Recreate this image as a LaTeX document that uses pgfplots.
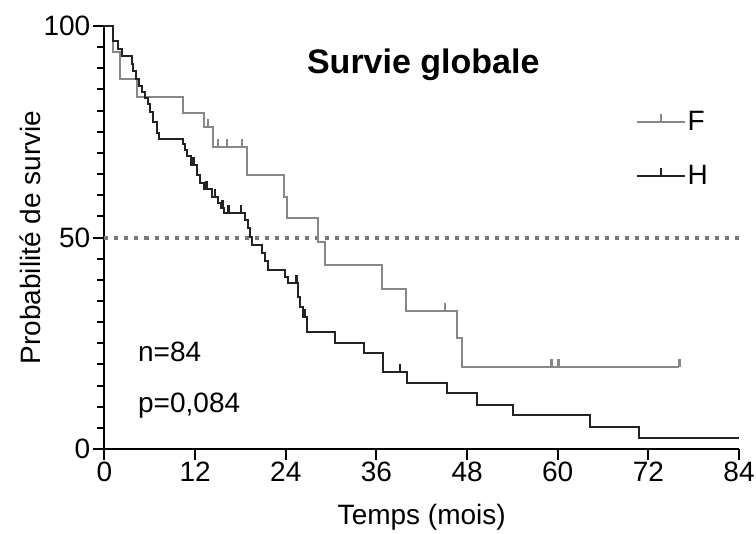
\documentclass[border=0pt]{standalone}
\usepackage{fontspec}
\setmainfont{Liberation Sans}
\usepackage{pgfplots}
\pgfplotsset{compat=1.18}
\definecolor{fcol}{RGB}{135,135,135}
\definecolor{hcol}{RGB}{35,35,35}
\definecolor{dcol}{RGB}{120,120,120}
\pgfdeclareplotmark{cens}{\pgfpathmoveto{\pgfpoint{0pt}{0pt}}\pgfpathlineto{\pgfpoint{0pt}{8pt}}\pgfusepathqstroke}
\newcommand{\bigf}{\fontsize{28}{30}\selectfont}
\begin{document}
\begin{tikzpicture}
\begin{axis}[
 scale only axis, width=634.5pt, height=423pt,
 xmin=0, xmax=84, ymin=0, ymax=100,
 axis x line=bottom, axis y line=left,
 axis line style={-, line width=2pt, black},
 xtick={0,12,24,36,48,60,72,84}, ytick={0,50,100}, minor ytick={5,10,...,95},
 tick style={black, line width=2pt},
 tick align=outside,
 major tick length=11pt, minor tick length=7pt,
 tick label style={font=\bigf},
 /pgf/number format/assume math mode=true,
 xticklabel style={inner sep=2pt},
 yticklabel style={inner sep=3pt},
 xlabel={Temps (mois)}, ylabel={Probabilité de survie},
 label style={font=\bigf},
 xlabel style={inner sep=0pt, at={(axis description cs:0.5,-0.1608)}, anchor=center},
 ylabel style={inner sep=0pt, at={(axis description cs:-0.1174,0.5)}, anchor=center},
 clip=false,
 legend style={draw=none, fill=none, at={(0.8377,0.8014)}, anchor=north west,
   font=\bigf, row sep=30pt, inner sep=0pt, nodes={inner sep=1.5pt}},
 legend cell align=left,
 legend image code/.code={\draw[#1,mark=none] (0pt,0pt) -- (48pt,0pt); \draw[#1,mark=none] (24pt,0pt) -- (24pt,8pt);},
]
\coordinate (ll) at (rel axis cs:0,0);
\coordinate (ur) at (rel axis cs:1,1);
% 50% reference line
\addplot[dcol, line width=4pt, dash pattern=on 4pt off 6pt, forget plot] coordinates {(0,50) (84,50)};
% F
\addplot[fcol, line width=2pt, const plot] coordinates {
(0,100) (1.1,93.9) (2.05,87.5) (4.3,83.2) (10.4,79.4) (13.2,76.2) (14.4,71.5)
(18.9,64.8) (23.7,59.6) (24.2,54.6) (28.3,49.0) (29.2,43.5) (36.7,37.8)
(39.9,32.7) (46.7,26.2) (47.3,19.3) (76.1,19.3)};
\addlegendentry{F}
% H
\addplot[hcol, line width=2pt, const plot] coordinates {
(0,100) (1.16,96.4) (1.79,94.6) (2.27,92.9) (3.59,91.1) (3.77,89.3) (4.17,87.5)
(4.6,85.7) (4.9,84.4) (5.4,83.0) (5.8,81.5) (6.0,79.6) (6.4,77.3) (6.9,74.8)
(7.2,73.2) (10.4,72.0) (10.7,70.8) (10.9,69.3) (11.5,67.1) (12.2,64.8)
(12.6,63.0) (13.2,61.5) (14.2,59.6) (15.0,58.2) (15.4,56.9) (15.8,55.7)
(18.6,54.1) (19.0,52.2) (19.3,50.2) (19.5,48.2) (20.8,46.3) (21.3,44.4)
(21.7,42.3) (23.9,40.7) (24.3,39.2) (25.6,36.0) (25.9,33.6) (26.3,31.3)
(26.8,27.7) (30.5,25.0) (34.3,22.6) (36.9,18.3) (40.1,15.5) (45.4,13.2)
(49.3,10.4) (54.1,8.0) (64.3,5.1) (70.8,2.7) (84,2.7)};
\addlegendentry{H}
% censor marks
\addplot[fcol, line width=2.5pt, only marks, mark=cens, forget plot] coordinates {
(13.7,76.2) (15.0,71.5) (16.2,71.5) (18.2,71.5) (45.1,32.7) (59.2,19.3) (60.1,19.3) (76.1,19.3)};
\addplot[hcol, line width=2.5pt, only marks, mark=cens, forget plot] coordinates {
(11.8,67.1) (13.5,61.5) (14.6,59.6) (15.6,56.9) (16.4,55.7) (18.1,55.7) (25.4,39.2) (26.5,31.3) (39.1,18.3)};
\node[font=\bfseries\fontsize{34}{36}\selectfont, anchor=base, inner sep=0pt] at (axis cs:42.2,88.7) {Survie globale};
\node[font=\bigf, anchor=base west, inner sep=0pt] at (axis cs:4.43,20.6) {n=84};
\node[font=\bigf, anchor=base west, inner sep=0pt] at (axis cs:4.43,8.7) {p=0,084};
\end{axis}
\pgfresetboundingbox
\path ([xshift=-104.5pt,yshift=-84pt]ll) rectangle ([xshift=17pt,yshift=26pt]ur);
\end{tikzpicture}
\end{document}
